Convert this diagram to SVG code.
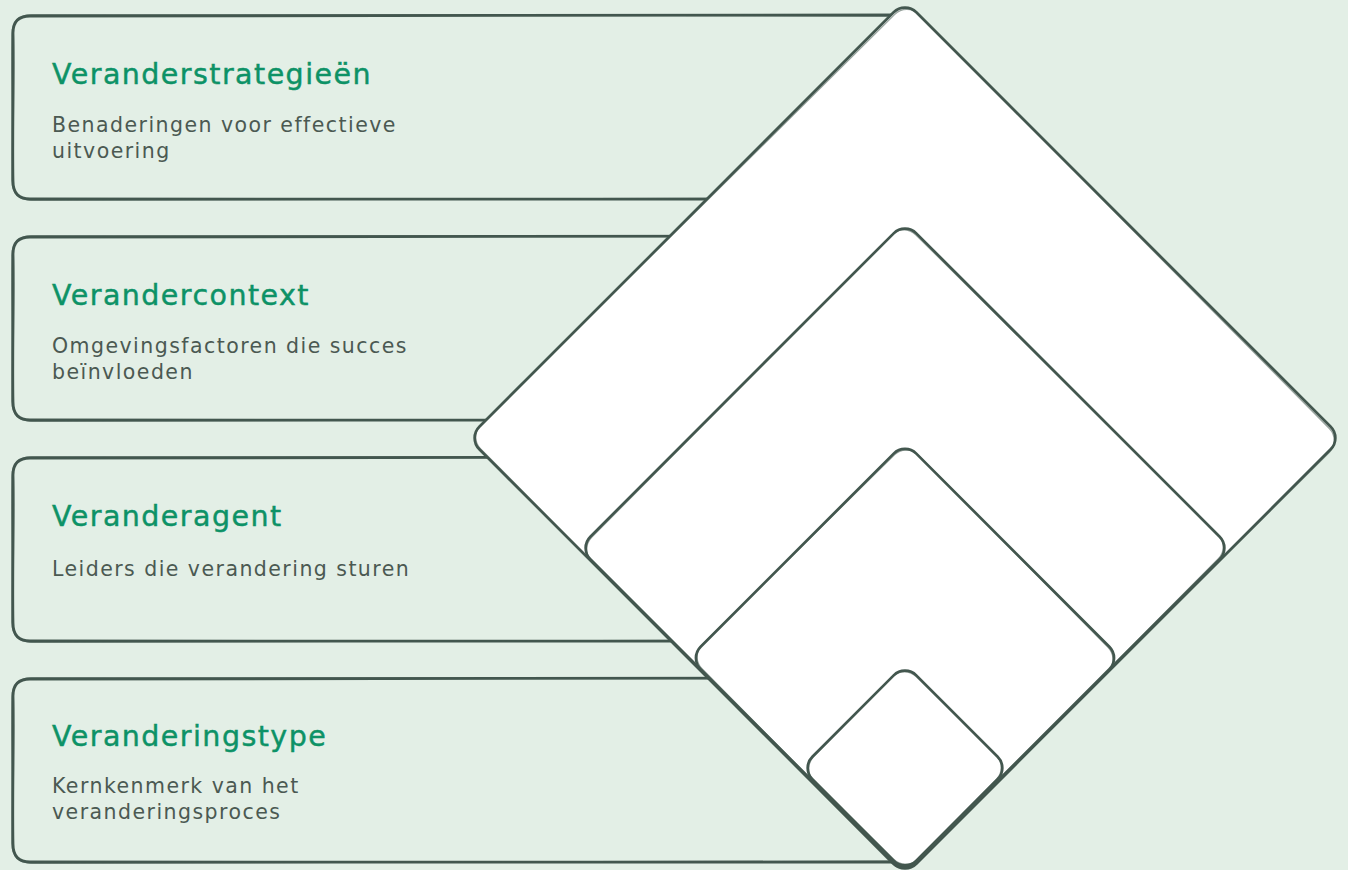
<svg xmlns="http://www.w3.org/2000/svg" xmlns:xlink="http://www.w3.org/1999/xlink" width="1348" height="870" viewBox="0 0 1348 870">
  <style>
    .bg { fill: #e3efe6; }
    .card { fill: #e3efe6; stroke: #43574f; stroke-width: 2.8; stroke-linejoin: round; }
    .card-sketch { fill: none; stroke: #43574f; stroke-width: 1.4; opacity: 0.75; }
    .tier { fill: #ffffff; stroke: #43574f; stroke-width: 2.7; }
    .tier-sketch { fill: none; stroke: #43574f; stroke-width: 1.2; opacity: 0.55; }
    .title { font-family: "DejaVu Sans", "Noto Sans", sans-serif; font-size: 28.5px; letter-spacing: 1.45px; fill: #0d9266; stroke: #0d9266; stroke-width: 0.45; }
    .desc { font-family: "DejaVu Sans", "Noto Sans", sans-serif; font-size: 20.5px; letter-spacing: 1.45px; fill: #4b5952; }
  </style>
  <defs>
    <!-- hand-drawn card outline, 893 x 184 -->
    <path id="card-shape" d="M18,1 C250,-1 520,2 893,0 L893,184 C600,185 300,182 18,184 Q1,184 1,166 C0,120 2,60 1,18 Q1,1 18,1 Z"/>
    <path id="card-trace" d="M20,0 C300,2 600,-1 893,1 M893,183 C500,183 250,186 20,185 Q0,185 0,165 C1,110 -1,60 0,20 Q0,0 20,0"/>
  </defs>

  <rect class="bg" x="0" y="0" width="1348" height="870"/>

  <!-- cards -->
  <g id="card-strategies">
    <use xlink:href="#card-shape" class="card" transform="translate(12,15)"/>
    <use xlink:href="#card-trace" class="card-sketch" transform="translate(12,15)"/>
    <text class="title" x="52" y="84">Veranderstrategieën</text>
    <text class="desc" x="52" y="132">Benaderingen voor effectieve</text>
    <text class="desc" x="52" y="158">uitvoering</text>
  </g>
  <g id="card-context">
    <use xlink:href="#card-shape" class="card" transform="translate(12,236)"/>
    <use xlink:href="#card-trace" class="card-sketch" transform="translate(12,236)"/>
    <text class="title" x="52" y="305">Verandercontext</text>
    <text class="desc" x="52" y="353">Omgevingsfactoren die succes</text>
    <text class="desc" x="52" y="379">beïnvloeden</text>
  </g>
  <g id="card-agent">
    <use xlink:href="#card-shape" class="card" transform="translate(12,457)"/>
    <use xlink:href="#card-trace" class="card-sketch" transform="translate(12,457)"/>
    <text class="title" x="52" y="526">Veranderagent</text>
    <text class="desc" x="52" y="576">Leiders die verandering sturen</text>
  </g>
  <g id="card-type">
    <use xlink:href="#card-shape" class="card" transform="translate(12,678)"/>
    <use xlink:href="#card-trace" class="card-sketch" transform="translate(12,678)"/>
    <text class="title" x="52" y="746">Veranderingstype</text>
    <text class="desc" x="52" y="793">Kernkenmerk van het</text>
    <text class="desc" x="52" y="819">veranderingsproces</text>
  </g>

  <!-- nested tiers, all sharing the bottom vertex -->
  <g id="tier-1">
    <rect class="tier" x="596" y="129" width="618" height="618" rx="16" transform="rotate(45 905 438)"/>
    <rect class="tier-sketch" x="597" y="130" width="617" height="617" rx="17" transform="rotate(45.25 905 438)"/>
  </g>
  <g id="tier-2">
    <rect class="tier" x="674.5" y="317.5" width="461" height="461" rx="16" transform="rotate(45 905 548)"/>
    <rect class="tier-sketch" x="675" y="318" width="460" height="460" rx="17" transform="rotate(44.75 905 548)"/>
  </g>
  <g id="tier-3">
    <rect class="tier" x="752.5" y="505.5" width="305" height="305" rx="16" transform="rotate(45 905 658)"/>
    <rect class="tier-sketch" x="753" y="506" width="304" height="304" rx="17" transform="rotate(45.35 905 658)"/>
  </g>
  <g id="tier-4">
    <rect class="tier" x="831.5" y="694.5" width="147" height="147" rx="16" transform="rotate(45 905 768)"/>
    <rect class="tier-sketch" x="832" y="695" width="146" height="146" rx="17" transform="rotate(44.6 905 768)"/>
  </g>
</svg>
